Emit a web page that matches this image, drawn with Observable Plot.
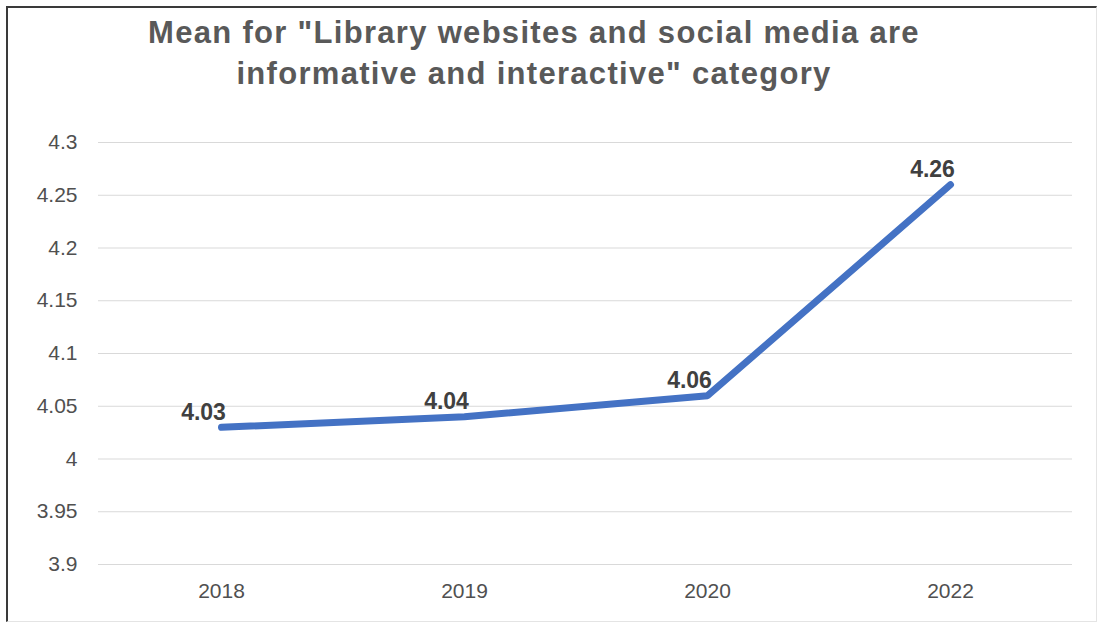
<!DOCTYPE html>
<html>
<head>
<meta charset="utf-8">
<script src="https://cdn.jsdelivr.net/npm/d3@7"></script>
<script src="https://cdn.jsdelivr.net/npm/@observablehq/plot@0.6"></script>
<style>
  html, body { margin: 0; padding: 0; background: #fff; }
  #wrap { position: relative; width: 1101px; height: 625px; overflow: hidden; background: #fff; font-family: "Liberation Sans", Arial, sans-serif; }
  #frame { position: absolute; left: 6px; top: 6px; width: 1091px; height: 616px; border-left: 2px solid #3a3a3a; border-top: 2px solid #3a3a3a; border-right: 1px solid #e4e4e4; border-bottom: 1px solid #e4e4e4; box-sizing: border-box; }
  #title { position: absolute; left: 0; top: 12px; width: 1068px; text-align: center; font-weight: bold; font-size: 31px; letter-spacing: 1.3px; line-height: 41px; color: #595959; }
  #chart { position: absolute; left: 0; top: 120px; }
</style>
</head>
<body>
<div id="wrap">
  <div id="frame"></div>
  <div id="title">Mean for "Library websites and social media are<br>informative and interactive" category</div>
  <div id="chart"></div>
</div>
<script>
const years = ["2018", "2019", "2020", "2022"];
const means = [4.03, 4.04, 4.06, 4.26];
const yTicks = [3.9, 3.95, 4.0, 4.05, 4.1, 4.15, 4.2, 4.25, 4.3];

const data = years.map((y, i) => ({year: y, mean: means[i]}));
const fmt = d => String(+d.toFixed(2));

const plot = Plot.plot({
  width: 1101,
  height: 505,
  marginLeft: 98,
  marginRight: 29,
  marginTop: 22,
  marginBottom: 61,
  style: {fontFamily: "'Liberation Sans', Arial, sans-serif", color: "#595959", background: "transparent"},
  x: {type: "point", domain: years, padding: 0.5},
  y: {domain: [3.9, 4.3]},
  marks: [
    Plot.gridY(yTicks, {stroke: "#d9d9d9", strokeOpacity: 1, strokeWidth: 1.2}),
    Plot.axisY(yTicks, {tickSize: 0, tickPadding: 21, tickFormat: fmt, fontSize: 21, fill: "#505050", stroke: "#505050", strokeWidth: 0.3, label: null}),
    Plot.axisX({tickSize: 0, tickPadding: 19, fontSize: 21, fill: "#505050", stroke: "#505050", strokeWidth: 0.3, label: null}),
    Plot.line(data, {x: "year", y: "mean", stroke: "#4472C4", strokeWidth: 7, strokeLinecap: "round", strokeLinejoin: "round"}),
    Plot.text(data, {x: "year", y: "mean", text: d => fmt(d.mean), dx: -18, dy: -15, fontSize: 23, fontWeight: "bold", fill: "#404040"})
  ]
});
document.getElementById("chart").appendChild(plot);
</script>
</body>
</html>
